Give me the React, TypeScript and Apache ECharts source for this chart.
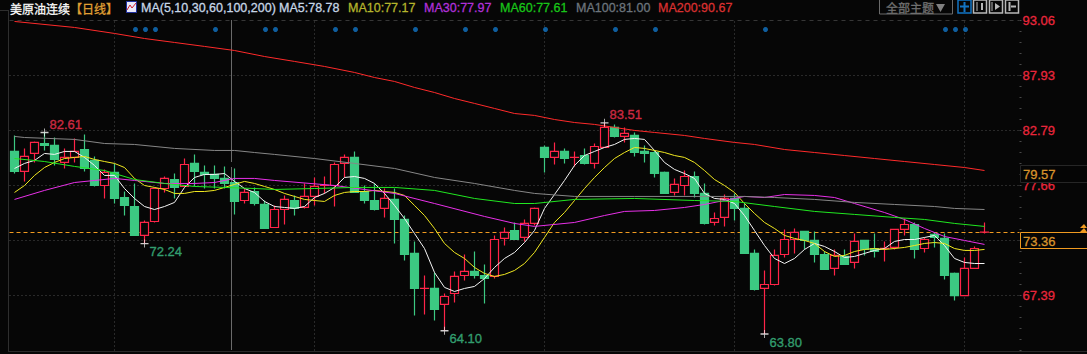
import React, { useEffect, useRef } from "react";
import * as echarts from "echarts";

// Open / close / low / high for each daily candle
const opens = [80.84,78.97,80.65,81.58,81.40,79.81,80.28,81.02,80.00,77.66,78.88,76.54,75.70,73.00,74.30,77.38,78.22,77.57,79.72,78.88,78.69,78.32,77.94,76.26,77.10,75.89,73.74,75.42,76.26,75.61,76.64,77.66,77.66,79.72,80.28,77.10,76.26,75.52,76.36,74.49,71.32,68.05,68.05,66.56,67.58,69.26,69.64,69.26,69.17,72.72,73.46,72.81,74.12,81.21,80.28,80.84,80.28,80.46,79.72,81.21,83.08,82.24,82.33,80.84,80.74,78.88,77.01,77.66,78.50,76.92,74.21,74.68,76.45,75.52,71.32,68.05,68.42,71.22,72.62,73.37,72.53,71.22,69.92,71.04,70.48,72.53,71.78,71.78,71.88,73.56,74.02,71.78,73.09,72.72,69.45,67.39,69.92,73.30];
const closes = [78.97,80.37,81.68,81.40,80.09,80.28,80.84,79.25,77.66,78.88,76.45,75.80,73.00,74.21,77.38,78.32,77.48,79.62,78.97,78.69,78.32,77.85,76.17,77.01,75.98,73.65,75.42,76.36,75.52,76.64,77.57,77.67,79.62,80.28,77.01,76.26,75.42,76.45,74.49,71.22,68.05,68.06,66.09,67.30,69.17,69.64,69.26,68.98,72.62,73.28,72.62,74.12,75.52,80.28,80.84,80.18,80.29,79.72,81.30,83.08,82.24,82.52,80.74,80.65,78.78,76.92,77.76,78.50,76.92,74.12,74.58,76.45,75.52,71.32,67.96,68.42,71.13,72.62,73.28,72.53,71.22,69.82,71.13,70.29,72.44,71.69,71.50,71.79,73.56,74.02,71.69,72.62,72.81,69.26,67.39,69.92,71.78,73.31];
const lows = [78.78,78.04,79.81,80.93,79.53,79.25,79.81,78.97,77.57,76.45,75.98,74.86,73.00,72.24,74.21,77.01,76.45,77.57,77.57,77.38,77.38,77.38,74.96,75.98,75.80,73.65,73.74,74.02,74.86,75.52,75.80,76.92,75.70,78.41,77.01,75.98,75.33,74.68,72.24,70.66,65.53,65.62,65.06,64.10,66.74,68.79,68.98,66.65,68.98,72.06,72.62,72.44,73.93,78.88,79.62,79.72,79.44,79.62,79.25,81.21,82.14,81.68,80.37,79.81,78.41,76.92,76.73,76.73,76.54,74.02,73.93,73.84,74.40,71.32,67.86,63.80,68.33,70.94,71.32,71.69,70.48,69.82,69.26,70.29,69.92,71.13,70.94,70.57,71.69,73.00,70.85,71.41,71.88,68.89,66.93,67.39,69.92,73.18];
const highs = [82.33,81.12,81.77,82.61,82.14,81.12,82.05,82.42,80.37,79.16,79.72,77.10,77.85,74.40,77.48,78.50,78.78,80.18,80.56,79.53,79.53,79.44,79.25,77.38,77.48,76.26,75.80,76.73,76.73,77.85,78.41,78.50,79.81,80.56,80.84,77.66,77.85,77.38,77.38,74.86,72.44,69.26,69.54,67.58,69.64,71.22,71.50,70.29,73.00,73.74,74.21,74.49,75.61,81.40,81.68,81.12,80.84,81.12,81.58,83.51,83.36,83.08,82.61,81.40,80.93,78.97,78.32,79.06,78.97,77.85,75.14,76.82,76.92,75.98,71.69,69.73,71.69,73.56,73.65,73.37,73.37,71.50,71.69,71.69,73.18,72.53,73.18,72.44,73.56,74.58,74.21,72.81,73.28,73.18,69.54,70.94,71.97,74.21];

// Moving averages
const ma5 = [79.25,79.72,80.00,80.65,80.56,80.84,80.84,80.28,79.53,78.60,78.60,77.38,76.45,75.70,75.42,75.70,76.08,77.48,78.41,78.69,78.69,78.78,78.04,77.38,77.01,76.17,75.70,75.61,75.52,75.70,76.54,76.92,77.48,78.41,78.50,78.32,77.85,76.92,75.80,74.58,73.18,71.78,69.54,68.15,67.77,68.05,68.24,68.98,70.01,70.85,71.41,72.34,73.46,75.52,76.82,78.13,79.53,80.46,80.84,81.21,81.49,81.96,82.05,81.96,80.93,79.81,79.16,78.78,78.32,76.92,76.45,76.36,75.98,74.86,73.46,72.06,70.85,70.38,70.85,71.69,72.25,71.97,71.50,70.94,71.04,71.32,71.60,71.78,72.44,72.62,72.62,72.81,73.00,72.06,70.85,70.48,70.38,70.38];
const ma10 = [77.01,77.66,78.60,79.34,79.81,80.18,80.28,80.37,80.09,79.90,79.72,79.34,78.32,77.66,77.48,77.29,76.92,76.92,77.10,77.10,77.20,77.48,77.76,78.04,77.85,77.57,77.29,76.92,76.64,76.36,76.26,76.17,76.73,77.01,77.10,77.10,77.20,77.10,77.01,76.73,75.80,74.86,73.65,72.25,71.41,70.85,70.01,69.45,69.17,69.36,69.73,70.38,71.41,72.81,74.21,75.14,76.26,77.38,78.41,79.34,80.18,80.74,81.21,81.12,80.93,80.74,80.46,80.28,79.81,79.06,78.22,77.66,77.01,75.98,75.05,74.21,73.65,73.00,72.72,72.53,72.25,71.50,71.04,71.13,71.50,71.69,71.78,71.69,71.78,71.88,72.06,72.25,72.34,72.25,71.78,71.60,71.60,71.69];
const ma30 = [[0,76.36],[3,77.20],[6,77.94],[8,78.13],[10,78.32],[12,78.13],[15,77.85],[18,77.85],[20,77.94],[22,78.32],[24,78.32],[26,78.13],[32,77.66],[38,76.92],[42,75.98],[47,74.77],[50,74.12],[52,73.84],[56,74.21],[59,74.86],[61,75.24],[64,75.33],[67,75.61],[69,75.89],[72,76.45],[73,76.64],[75,76.54],[77,76.82],[80,76.73],[82,76.54],[84,75.98],[87,75.14],[89,74.49],[91,73.65],[93,72.90],[95,72.53],[97,72.16]];
const ma60 = [[0,80.18],[3,79.90],[6,79.44],[9,79.06],[12,78.22],[15,77.85],[18,77.57],[21,77.48],[24,77.38],[26,77.29],[30,77.38],[34,77.48],[38,77.48],[42,77.20],[46,76.45],[50,75.98],[52,75.98],[56,76.36],[62,76.45],[68,76.26],[72,76.17],[76,75.70],[80,75.24],[84,74.96],[88,74.68],[91,74.49],[94,74.12],[97,73.84]];
const ma100 = [[0,82.24],[1,82.14],[6,81.96],[9,81.58],[12,81.49],[16,81.12],[20,80.93],[22,80.93],[24,80.74],[26,80.56],[30,80.18],[34,79.72],[38,79.25],[42,78.41],[46,77.85],[50,77.20],[52,76.92],[56,76.64],[62,76.64],[68,76.64],[73,76.64],[76,76.54],[80,76.36],[84,76.08],[88,75.89],[92,75.70],[94,75.52],[97,75.42]];
const ma200 = [[0,92.97],[6,92.41],[10,91.85],[13,91.38],[16,91.01],[19,90.64],[22,90.26],[25,89.70],[28,89.24],[31,88.77],[34,88.21],[36,87.74],[38,87.37],[40,86.81],[42,86.34],[44,85.78],[46,85.32],[48,84.85],[50,84.38],[52,84.20],[54,83.82],[56,83.54],[58,83.36],[60,83.08],[62,82.80],[64,82.61],[67,82.33],[69,82.05],[72,81.68],[74,81.49],[77,81.02],[80,80.74],[83,80.46],[86,80.18],[89,79.90],[92,79.62],[95,79.34],[97,79.06]];

// Axis and annotations
const tickLabels = [93.06, 87.93, 82.79, 77.66, 72.53, 67.39];
const gridLevels = [87.93, 82.79, 77.66, 72.53, 67.39];
const axisMin = 62.26;
const axisMax = 93.06;
const lastPrice = 73.36;
const lastPriceLine = 73.27;
const sidePrice = 79.57;
const monthLines = [10, 30, 53, 72, 95];
const dotIndexes = [12,13,14,20,25,26,32,34,40,45,48,53,60,64,75,93,94,95];
const dotLevel = 92.22;
const extremeIndexes = [3, 13, 43, 59, 75];
const extremeValues = [82.61, 72.24, 64.1, 83.51, 63.8];
const extremeUp = [true, false, false, true, false];

const headerItems = [
  { text: "MA(5,10,30,60,100,200)", x: 141, fill: "#c6d6e6" },
  { text: "MA5:78.78", x: 279, fill: "#c6d6e6" },
  { text: "MA10:77.17", x: 348, fill: "#b4b42c" },
  { text: "MA30:77.97", x: 424, fill: "#b030d8" },
  { text: "MA60:77.61", x: 500, fill: "#18c418" },
  { text: "MA100:81.00", x: 576, fill: "#6c747c" },
  { text: "MA200:90.67", x: 658, fill: "#d83030" },
];

const BG = "#060606";
const RED = "#ff2448";
const GREEN = "#3cc982";
const ORANGE = "#f09a20";
const FONT = '"Liberation Sans", Arial, sans-serif';
const CJK = '"Noto Sans CJK SC", sans-serif';

const categories = [...opens.map((_, i) => String(i)), "", " ", "  "];

function maSeries(name: string, data: any[], color: string) {
  return {
    name,
    type: "line",
    data,
    z: 4,
    showSymbol: false,
    symbol: "none",
    silent: true,
    lineStyle: { width: 1, color },
    itemStyle: { color },
  };
}

function txt(text: string, x: number, y: number, fill: string, font: string, z = 100) {
  return {
    type: "text",
    z,
    silent: true,
    style: { text, x, y, fill, font, textVerticalAlign: "middle", stroke: fill, lineWidth: 0.3 },
  };
}

function toolButton(x: number, color: string) {
  return { type: "rect", z: 100, silent: true, shape: { x, y: 0, width: 13, height: 13 }, style: { fill: "transparent", stroke: color, lineWidth: 1.5 } };
}

function seg(x1: number, y1: number, x2: number, y2: number, stroke: string, lineWidth = 1, z = 100) {
  return { type: "line", z, silent: true, shape: { x1, y1, x2, y2 }, style: { stroke, lineWidth } };
}

export default function App() {
  const ref = useRef<HTMLDivElement>(null);
  useEffect(() => {
    document.body.style.margin = "0";
    document.body.style.background = BG;
    const chart = echarts.init(ref.current!, undefined, { renderer: "svg" });
    const tickDots: number[] = [];
    const step = (axisMax - axisMin) / 30;
    for (let i = 0; i <= 30; i++) tickDots.push(axisMin + i * step);

    chart.setOption({
      animation: false,
      backgroundColor: BG,
      grid: { left: 9.5, top: 20.5, right: 67.5, bottom: 3.5 },
      xAxis: { type: "category", data: categories, show: false, boundaryGap: true },
      yAxis: {
        type: "value",
        position: "right",
        min: axisMin,
        max: axisMax,
        splitLine: { show: false },
        axisLine: { show: false },
        axisTick: { show: true, customValues: tickDots, length: 2, lineStyle: { color: "#484848", width: 1 } },
        axisLabel: {
          customValues: tickLabels,
          formatter: (v: number) => v.toFixed(2),
          color: "#e8263c",
          fontFamily: FONT,
          fontSize: 13,
          margin: 3,
          textBorderColor: "#e8263c",
          textBorderWidth: 0.3,
        },
      },
      series: [
        {
          name: "guides",
          type: "line",
          data: [],
          z: 1,
          silent: true,
          markLine: {
            silent: true,
            z: 1,
            symbol: "none",
            label: { show: false },
            data: [
              { yAxis: axisMax, lineStyle: { color: "#363636", type: [4, 4], width: 1 } },
              ...gridLevels.map((v) => ({ yAxis: v, lineStyle: { color: "#4c4c4c", type: [1, 3], width: 1 } })),
              ...monthLines.map((i) => ({ xAxis: i, lineStyle: { color: "#4c4c4c", type: [1, 3], width: 1 } })),
              { yAxis: lastPriceLine, lineStyle: { color: ORANGE, type: [4, 3], width: 1 } },
            ],
          },
        },
        {
          name: "美原油连续",
          type: "candlestick",
          z: 3,
          silent: true,
          barWidth: 8,
          data: opens.map((o, i) => [o, closes[i], lows[i], highs[i]]),
          itemStyle: { color: BG, color0: GREEN, borderColor: RED, borderColor0: GREEN, borderWidth: 1.2 },
        },
        maSeries("MA5", ma5, "#f4f4f4"),
        maSeries("MA10", ma10, "#f0e820"),
        maSeries("MA30", ma30, "#e830e8"),
        maSeries("MA60", ma60, "#20e820"),
        maSeries("MA100", ma100, "#868686"),
        maSeries("MA200", ma200, "#ff2a2a"),
        {
          name: "signals",
          type: "scatter",
          z: 5,
          silent: true,
          symbol: "circle",
          symbolSize: 5,
          symbolOffset: [1, 0],
          itemStyle: { color: "#1274c4" },
          data: dotIndexes.map((i) => [i, dotLevel]),
        },
        {
          name: "extremes",
          type: "scatter",
          z: 6,
          silent: true,
          symbol: "path://M0,4.5H10V5.5H0Z M4.5,2H5.5V8H4.5Z",
          symbolSize: 8,
          itemStyle: { color: "#ffffff" },
          data: extremeIndexes.map((i, k) => ({
            value: [i, extremeValues[k]],
            label: {
              show: true,
              position: "right",
              distance: 1,
              offset: [0, extremeUp[k] ? -8 : 8],
              formatter: extremeValues[k].toFixed(2),
              color: extremeUp[k] ? "#e8304c" : "#3ab47f",
              fontFamily: FONT,
              fontSize: 13,
              textBorderColor: extremeUp[k] ? "#e8304c" : "#3ab47f",
              textBorderWidth: 0.4,
            },
          })),
        },
      ],
      graphic: [
        // frame
        seg(8.5, 10, 8.5, 351, "#2e2e2e"),
        seg(0, 10.5, 8, 10.5, "#2e2e2e"),
        seg(8, 351.5, 1087, 351.5, "#2a2a2a"),
        // cross-hair behind the candles
        seg(231.5, 20, 231.5, 162, "#6a6a6a", 1, 0),
        seg(231.5, 167, 231.5, 350, "#6a6a6a", 1, 0),
        // header
        txt("美原油连续", 10, 8, "#f8f8f8", `12px ${CJK}`),
        txt("【日线】", 70, 8, "#e0a034", `12px ${CJK}`),
        { type: "rect", z: 100, silent: true, shape: { x: 126.5, y: 1.5, width: 10, height: 11 }, style: { fill: "#e8e8f8", stroke: "#2030a0", lineWidth: 1 } },
        { type: "polyline", z: 101, silent: true, shape: { points: [[127, 10], [130, 5], [132, 8], [136, 3]] }, style: { stroke: "#d02030", fill: "none", lineWidth: 1 } },
        ...headerItems.map((h) => txt(h.text, h.x, 8, h.fill, `12.5px ${FONT}`)),
        // toolbar
        { type: "rect", z: 100, silent: true, shape: { x: 879.5, y: -1, width: 73, height: 15 }, style: { fill: BG, stroke: "#6a6a6a", lineWidth: 1 } },
        txt("全部主题", 886, 7, "#707070", `12px ${CJK}`),
        { type: "polygon", z: 100, silent: true, shape: { points: [[936, 4], [945, 4], [940.5, 12]] }, style: { fill: "#808080" } },
        toolButton(958, "#1274c4"),
        seg(964.5, 2, 964.5, 12, "#1274c4", 2),
        seg(960, 6.5, 969, 6.5, "#1274c4", 2),
        toolButton(973.5, "#b8b8b8"),
        seg(977, 2, 977, 11, "#b8b8b8"),
        seg(982, 3, 982, 10, "#b8b8b8", 2),
        toolButton(989.5, "#b8b8b8"),
        seg(992, 2, 992, 11, "#b8b8b8"),
        { type: "polygon", z: 100, silent: true, shape: { points: [[995, 3], [1000, 6.5], [995, 10]] }, style: { fill: "#b8b8b8" } },
        toolButton(1005.5, "#b8b8b8"),
        seg(1009.5, 2, 1009.5, 11, "#b8b8b8", 2),
        seg(1011, 6.5, 1016, 6.5, "#b8b8b8", 2),
        // price boxes
        { type: "rect", z: 100, silent: true, shape: { x: 1020.5, y: 165.5, width: 70, height: 17 }, style: { fill: "#050505", stroke: "#262626", lineWidth: 1 } },
        txt(sidePrice.toFixed(2), 1023, 174, "#d8932c", `13px ${FONT}`, 101),
        { type: "rect", z: 100, silent: true, shape: { x: 1020.5, y: 232.5, width: 70, height: 16 }, style: { fill: "#050505", stroke: ORANGE, lineWidth: 1 } },
        txt(lastPrice.toFixed(2), 1023, 241, "#d8932c", `13px ${FONT}`, 101),
        { type: "polygon", z: 100, silent: true, shape: { points: [[1084, 224], [1080, 228], [1087, 228]] }, style: { fill: ORANGE } },
        { type: "polygon", z: 100, silent: true, shape: { points: [[1084, 228], [1080, 232], [1087, 232]] }, style: { fill: ORANGE } },
      ],
    });
    return () => chart.dispose();
  }, []);
  return <div ref={ref} style={{ position: "fixed", left: 0, top: 0, width: 1087, height: 354 }} />;
}
